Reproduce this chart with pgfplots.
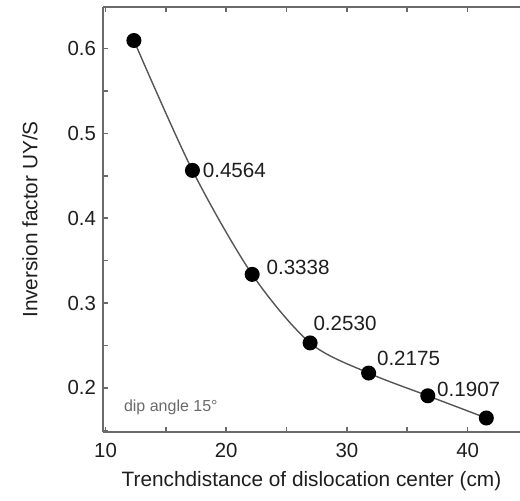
\documentclass[border=0pt]{standalone}
\usepackage{pgfplots}
\pgfplotsset{compat=1.18}
\usepackage{fontspec}
\setmainfont{Liberation Sans}
\definecolor{axgray}{HTML}{6A6A6A}
\definecolor{linegray}{HTML}{555555}
\definecolor{txt}{HTML}{1E1E1E}
\begin{document}
\begin{tikzpicture}
\useasboundingbox (-51.5pt,-34pt) rectangle (208.5pt,216pt);
\begin{axis}[
  at={(0,0)}, anchor=south west,
  scale only axis, width=208.5pt, height=212.5pt,
  xmin=9.79, xmax=44.34, ymin=0.148, ymax=0.649,
  xtick={10,20,30,40}, minor xtick={15,25,35,45},
  ytick={0.2,0.3,0.4,0.5,0.6}, minor ytick={0.15,0.25,0.35,0.45,0.55},
  xtick pos=both, ytick pos=left,
  tick align=inside,
  major tick length=2.5pt, minor tick length=2.5pt,
  every tick/.style={axgray, line width=0.8pt},
  axis line style={draw=none},
  /pgf/number format/assume math mode=true,
  yticklabel style={/pgf/number format/fixed,/pgf/number format/precision=1, font=\fontsize{10.2pt}{12pt}\selectfont, text=txt},
  xticklabel style={font=\fontsize{10.2pt}{12pt}\selectfont, text=txt, yshift=-2pt},
  clip=false,
]
\draw[axgray, line width=1pt] (rel axis cs:0,0) -- (rel axis cs:1,0);
\draw[axgray, line width=1pt] (rel axis cs:0,1) -- (rel axis cs:1,1);
\draw[axgray, line width=1pt] (rel axis cs:0,0) -- (rel axis cs:0,1);
\addplot[linegray, line width=0.7pt, smooth, mark=*, mark size=3.4pt,
  mark options={fill=black, draw=black}]
  coordinates {
  (12.35,0.6095) (17.2,0.4564) (22.15,0.3338) (26.95,0.2530)
  (31.8,0.2175) (36.7,0.1907) (41.55,0.1645)
  };
\node[anchor=west, inner sep=0pt, text=txt, font=\fontsize{10.3pt}{12pt}\selectfont, xshift=5pt, yshift=0pt] at (axis cs:17.2,0.4564) {0.4564};
\node[anchor=west, inner sep=0pt, text=txt, font=\fontsize{10.3pt}{12pt}\selectfont, xshift=7pt, yshift=3.5pt] at (axis cs:22.15,0.3338) {0.3338};
\node[anchor=west, inner sep=0pt, text=txt, font=\fontsize{10.3pt}{12pt}\selectfont, xshift=1.5pt, yshift=10pt] at (axis cs:26.95,0.2530) {0.2530};
\node[anchor=west, inner sep=0pt, text=txt, font=\fontsize{10.3pt}{12pt}\selectfont, xshift=4pt, yshift=7.5pt] at (axis cs:31.8,0.2175) {0.2175};
\node[anchor=west, inner sep=0pt, text=txt, font=\fontsize{10.3pt}{12pt}\selectfont, xshift=4.5pt, yshift=3pt] at (axis cs:36.7,0.1907) {0.1907};
\node[anchor=west, text=axgray, font=\fontsize{8pt}{9pt}\selectfont, inner sep=0pt] at (axis cs:11.5,0.1765) {dip angle 15°};
\node[text=txt, font=\fontsize{10.4pt}{12pt}\selectfont, anchor=center] at ([yshift=-24.5pt]rel axis cs:0.5,0) {Trenchdistance of dislocation center (cm)};
\node[text=txt, font=\fontsize{10.4pt}{12pt}\selectfont, anchor=center, rotate=90] at ([xshift=-36.5pt]rel axis cs:0,0.5) {Inversion factor UY/S};
\end{axis}
\end{tikzpicture}
\end{document}
